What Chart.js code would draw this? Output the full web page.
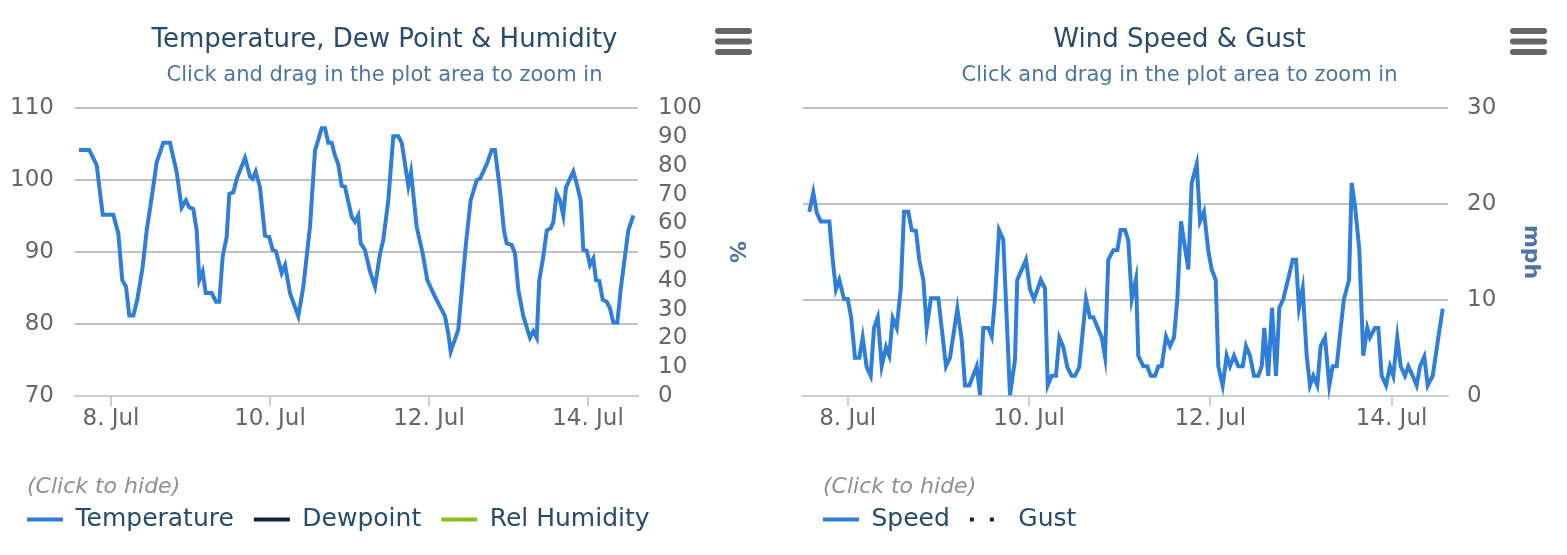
<!DOCTYPE html>
<html>
<head>
<meta charset="utf-8">
<script src="https://cdn.jsdelivr.net/npm/chart.js@4.4.1/dist/chart.umd.min.js"></script>
<style>
  html, body { margin: 0; padding: 0; background: #fff; }
  body { width: 1567px; height: 555px; position: relative; overflow: hidden; }
  canvas { position: absolute; top: 0; }
  #c1 { left: 0; }
  #c2 { left: 783px; }
</style>
</head>
<body>
<canvas id="c1" width="762" height="555"></canvas>
<canvas id="c2" width="773" height="555"></canvas>
<script>
// ---- data (x = day of July, fractional) ----
const tempDays = [7.597,7.727,7.820,7.896,8.029,8.092,8.142,8.189,8.230,8.281,8.331,8.399,8.449,8.512,8.575,8.658,8.742,8.826,8.889,8.943,8.985,9.035,9.078,9.111,9.153,9.191,9.267,9.321,9.362,9.405,9.455,9.488,9.538,9.589,9.686,9.748,9.782,9.820,9.874,9.937,9.991,10.034,10.075,10.147,10.189,10.252,10.356,10.419,10.503,10.566,10.650,10.692,10.733,10.776,10.818,10.859,10.902,10.943,11.028,11.069,11.111,11.141,11.195,11.258,11.321,11.384,11.425,11.488,11.551,11.614,11.657,11.740,11.774,11.845,11.921,11.979,12.075,12.201,12.245,12.273,12.368,12.465,12.524,12.600,12.642,12.726,12.789,12.830,12.893,12.943,12.977,13.040,13.082,13.123,13.186,13.270,13.312,13.355,13.387,13.438,13.481,13.531,13.564,13.606,13.648,13.689,13.723,13.752,13.815,13.858,13.908,13.941,13.984,14.025,14.067,14.101,14.142,14.185,14.235,14.277,14.318,14.369,14.411,14.507,14.570];
const tempF = [104.2,104.2,102.1,95.2,95.2,92.6,86.1,85.2,81.2,81.2,83.4,88.0,93.0,97.6,102.5,105.2,105.2,101.1,96.2,97.2,96.2,96.0,93.0,86.1,87.3,84.3,84.3,83.1,83.1,89.4,92.1,98.1,98.3,100.4,103.1,100.5,100.2,101.2,99.0,92.3,92.1,90.3,90.1,87.1,88.2,84.3,81.1,85.2,93.5,104.1,107.2,107.2,105.2,105.2,103.4,102.2,99.2,99.1,94.9,94.2,95.1,91.2,90.3,87.3,85.2,89.8,91.7,97.2,106.1,106.1,105.2,99.2,101.1,93.5,89.8,86.1,83.8,81.1,78.5,76.2,79.2,91.2,97.2,100.0,100.2,102.2,104.2,104.2,98.6,93.0,91.2,91.0,89.8,84.8,81.1,78.1,79.0,78.1,86.1,89.4,93.0,93.3,94.2,98.2,97.2,95.1,99.0,99.7,101.2,99.5,97.2,90.3,90.2,88.2,89.1,86.1,86.0,83.4,83.1,82.2,80.2,80.2,84.8,93.0,95.1];
const dewDays = [];
const dewF = [];
const humDays = [];
const humPct = [];

const windDays = [7.577,7.621,7.659,7.703,7.798,7.835,7.871,7.908,7.960,8.001,8.037,8.081,8.129,8.166,8.210,8.254,8.291,8.332,8.376,8.423,8.459,8.497,8.541,8.585,8.622,8.669,8.707,8.754,8.790,8.835,8.872,8.919,9.000,9.085,9.129,9.210,9.258,9.295,9.342,9.424,9.460,9.496,9.552,9.589,9.625,9.670,9.717,9.791,9.846,9.871,9.967,10.012,10.056,10.130,10.177,10.207,10.251,10.298,10.335,10.379,10.423,10.472,10.508,10.555,10.629,10.673,10.710,10.803,10.839,10.875,10.931,10.975,11.012,11.060,11.096,11.134,11.181,11.206,11.261,11.306,11.343,11.391,11.427,11.464,11.512,11.556,11.600,11.637,11.677,11.758,11.795,11.851,11.887,11.931,11.979,12.016,12.060,12.089,12.137,12.181,12.218,12.262,12.309,12.358,12.394,12.438,12.483,12.530,12.568,12.596,12.640,12.681,12.725,12.762,12.806,12.910,12.946,12.979,13.020,13.064,13.100,13.137,13.181,13.218,13.266,13.313,13.351,13.395,13.439,13.475,13.531,13.560,13.597,13.644,13.688,13.732,13.762,13.817,13.854,13.891,13.939,13.983,14.019,14.063,14.101,14.148,14.185,14.233,14.277,14.314,14.361,14.399,14.454,14.516,14.564];
const windMph = [19.2,21.2,19.1,18.2,18.2,14.2,11.1,12.1,10.1,10.1,8.3,4.0,4.0,6.1,3.0,2.1,7.1,8.2,3.1,5.1,4.2,8.1,7.1,11.1,19.2,19.2,17.3,17.2,14.2,12.1,7.1,10.2,10.2,3.1,4.0,9.1,5.9,1.1,1.1,3.1,0.1,7.1,7.1,6.2,10.1,17.3,16.3,0.1,3.8,12.1,14.2,11.1,10.1,12.1,11.2,1.1,2.1,2.1,6.1,5.1,3.0,2.1,2.1,3.0,10.1,8.2,8.2,6.1,4.1,14.2,15.2,15.2,17.3,17.3,16.2,10.1,12.2,4.2,3.1,3.1,2.1,2.1,3.1,3.1,6.2,5.2,6.1,10.1,18.2,13.2,22.2,24.2,18.2,19.2,15.1,13.2,12.1,3.1,1.1,4.2,3.1,4.2,3.1,3.1,5.2,4.2,2.1,2.1,3.1,7.1,2.1,9.2,2.1,9.2,10.1,14.2,14.2,9.2,11.2,4.2,1.1,2.1,1.1,5.2,6.1,1.1,3.1,3.1,7.1,10.1,12.1,22.2,19.8,15.3,4.2,7.1,6.1,7.1,7.1,2.1,1.1,3.1,2.1,6.1,3.1,2.1,3.1,2.1,1.1,3.1,4.1,1.1,2.1,6.1,9.1];
const gustDays = [];
const gustMph = [];

const xTickDays = [8, 10, 12, 14];
const xTickLabels = ['8. Jul', '10. Jul', '12. Jul', '14. Jul'];
const tempTicks = [70, 80, 90, 100, 110];
const humTicks = [0, 10, 20, 30, 40, 50, 60, 70, 80, 90, 100];
const windTicks = [0, 10, 20, 30];

const pts = (xs, ys) => xs.map((x, i) => ({x: x, y: ys[i]}));

// ---- styling ----
Chart.defaults.font.family = "'DejaVu Sans', sans-serif";
Chart.defaults.animation = false;
const FONT = "'DejaVu Sans', sans-serif";
const TITLE_COLOR = '#274b6d';
const SUB_COLOR = '#4d759e';
const LABEL_COLOR = '#666666';
const GRID_COLOR = '#C0C0C0';
const AXIS_COLOR = '#C0D0E0';

const decoPlugin = {
  id: 'deco',
  afterDraw(chart, args, opts) {
    const ctx = chart.ctx;
    ctx.save();
    // exporting menu icon
    ctx.strokeStyle = '#666666';
    ctx.lineWidth = 6;
    ctx.lineCap = 'round';
    [31, 41.5, 52].forEach(y => {
      ctx.beginPath();
      ctx.moveTo(opts.menuX + 3, y);
      ctx.lineTo(opts.menuX + 34, y);
      ctx.stroke();
    });
    // legend hint
    ctx.fillStyle = '#909090';
    ctx.font = "italic 22px " + FONT;
    ctx.textBaseline = 'middle';
    ctx.textAlign = 'left';
    ctx.fillText('(Click to hide)', chart.legend.left + 20, 487);
    ctx.restore();
  }
};

function xScale(min, max) {
  return {
    type: 'linear', min: min, max: max,
    afterBuildTicks: (s) => { s.ticks = xTickDays.map(v => ({value: v})); },
    afterFit: (s) => { s.height = 91; },
    grid: { drawOnChartArea: false, drawTicks: true, tickLength: 10, color: AXIS_COLOR, lineWidth: 2 },
    border: { display: true, color: AXIS_COLOR, width: 2 },
    ticks: {
      color: LABEL_COLOR, padding: 2, maxRotation: 0, autoSkip: false,
      font: { size: 23, lineHeight: 1 },
      callback: (v) => xTickLabels[xTickDays.indexOf(v)]
    }
  };
}

function titles(text) {
  return {
    title: { display: true, text: text, color: TITLE_COLOR, font: { size: 26, weight: 'normal' }, padding: { top: 24.4, bottom: 0 } },
    subtitle: { display: true, text: 'Click and drag in the plot area to zoom in', color: SUB_COLOR, font: { size: 21 }, padding: { top: 7, bottom: 20.4 } }
  };
}

function legendLabels(chart) {
  const items = Chart.defaults.plugins.legend.labels.generateLabels(chart);
  items.forEach(it => {
    const ds = chart.data.datasets[it.datasetIndex];
    it.lineDash = ds.borderDash || [];
    it.lineDashOffset = ds.borderDashOffset || 0;
    it.lineWidth = ds.borderWidth;
    it.strokeStyle = ds.borderColor;
  });
  return items;
}

function legendOpts() {
  return {
    display: true, position: 'bottom', align: 'start',
    labels: { color: TITLE_COLOR, font: { size: 25 }, usePointStyle: true, pointStyle: 'line', pointStyleWidth: 36, padding: 20, generateLabels: legendLabels }
  };
}

// ---- chart 1: temperature ----
new Chart(document.getElementById('c1'), {
  type: 'line',
  data: {
    datasets: [
      { label: 'Temperature', data: pts(tempDays, tempF), yAxisID: 'y', borderColor: '#2f7ed8', backgroundColor: '#2f7ed8', borderWidth: 4, pointRadius: 0, tension: 0, clip: false },
      { label: 'Dewpoint', data: pts(dewDays, dewF), yAxisID: 'y', borderColor: '#0d233a', backgroundColor: '#0d233a', borderWidth: 4, pointRadius: 0 },
      { label: 'Rel Humidity', data: pts(humDays, humPct), yAxisID: 'y1', borderColor: '#8bbc21', backgroundColor: '#8bbc21', borderWidth: 4, pointRadius: 0 }
    ]
  },
  options: {
    responsive: false,
    layout: { padding: { left: 7, right: 0, top: 0, bottom: 13 } },
    plugins: Object.assign(titles('Temperature, Dew Point & Humidity'), { legend: legendOpts(), tooltip: { enabled: false }, deco: { menuX: 715 } }),
    scales: {
      x: xScale(7.5472, 14.6289),
      y: {
        position: 'left', min: 70, max: 110,
        afterBuildTicks: (s) => { s.ticks = tempTicks.map(v => ({value: v})); },
        afterFit: (s) => { s.width = 68; },
        grid: { color: GRID_COLOR, lineWidth: 2, drawTicks: false },
        border: { display: false },
        ticks: { color: LABEL_COLOR, padding: 21, autoSkip: false, font: { size: 23 } }
      },
      y1: {
        position: 'right', min: 0, max: 100,
        afterBuildTicks: (s) => { s.ticks = humTicks.map(v => ({value: v})); },
        afterFit: (s) => { s.width = 124; },
        grid: { drawOnChartArea: false, drawTicks: false },
        border: { display: false },
        ticks: { color: LABEL_COLOR, padding: 20, autoSkip: false, font: { size: 23 } },
        title: { display: true, text: '%', color: SUB_COLOR, font: { size: 22, weight: 'bold' }, padding: { top: 13, bottom: 0 } }
      }
    }
  },
  plugins: [decoPlugin]
});

// ---- chart 2: wind ----
new Chart(document.getElementById('c2'), {
  type: 'line',
  data: {
    datasets: [
      { label: 'Speed', data: pts(windDays, windMph), borderColor: '#2f7ed8', backgroundColor: '#2f7ed8', borderWidth: 4, pointRadius: 0, tension: 0, clip: false },
      { label: 'Gust', data: pts(gustDays, gustMph), borderColor: '#0d233a', backgroundColor: '#0d233a', borderWidth: 4, borderDash: [4, 16], borderDashOffset: 0, pointRadius: 0 }
    ]
  },
  options: {
    responsive: false,
    layout: { padding: { left: 20, right: 0, top: 0, bottom: 13 } },
    plugins: Object.assign(titles('Wind Speed & Gust'), { legend: legendOpts(), tooltip: { enabled: false }, deco: { menuX: 727 } }),
    scales: {
      x: xScale(7.5074, 14.6227),
      y: {
        position: 'right', min: 0, max: 30,
        afterBuildTicks: (s) => { s.ticks = windTicks.map(v => ({value: v})); },
        afterFit: (s) => { s.width = 108; },
        grid: { color: GRID_COLOR, lineWidth: 2, drawTicks: false },
        border: { display: false },
        ticks: { color: LABEL_COLOR, padding: 19, autoSkip: false, font: { size: 23 } },
        title: { display: true, text: 'mph', color: SUB_COLOR, font: { size: 22, weight: 'bold' }, padding: { top: 12, bottom: 0 } }
      }
    }
  },
  plugins: [decoPlugin]
});
</script>
</body>
</html>
